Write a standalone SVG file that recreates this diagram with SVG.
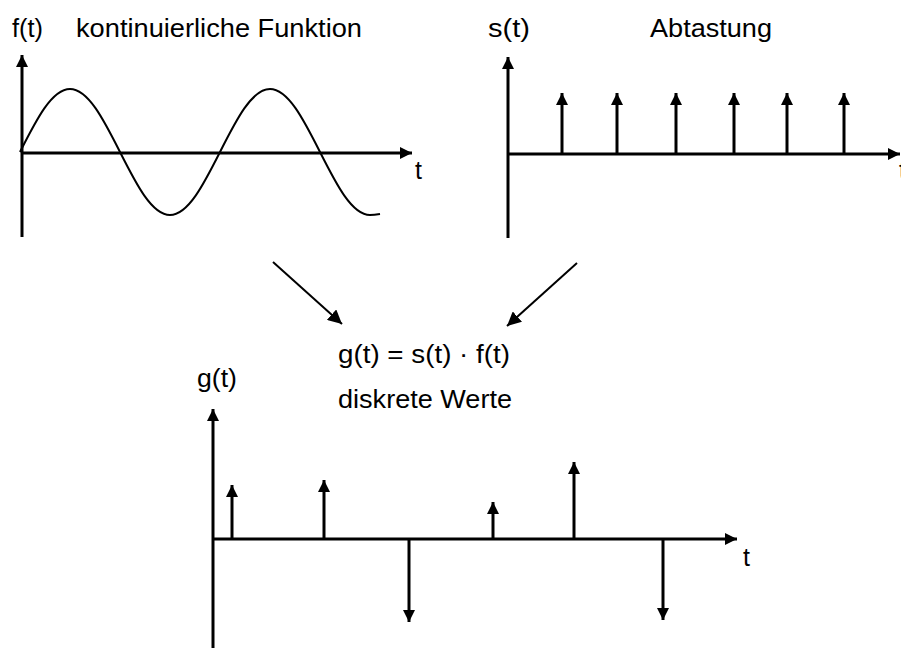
<svg xmlns="http://www.w3.org/2000/svg" width="901" height="648" viewBox="0 0 901 648">
<style>
  text { font-family: "Liberation Sans", Arial, sans-serif; font-size: 25px; fill: #000; }
  .ax { stroke: #000; stroke-width: 3; fill: none; marker-end: url(#ah); }
  .imp { stroke: #000; stroke-width: 3; fill: none; marker-end: url(#ah); }
  .wave { stroke: #000; stroke-width: 2; fill: none; }
  .con { stroke: #000; stroke-width: 2; fill: none; marker-end: url(#ch); }
</style>
<defs>
  <marker id="ah" markerUnits="userSpaceOnUse" markerWidth="14" markerHeight="12" refX="12" refY="6" orient="auto">
    <path d="M0,0 L12,6 L0,12 Z" fill="#000"/>
  </marker>
  <marker id="ch" markerUnits="userSpaceOnUse" markerWidth="16" markerHeight="14" refX="14" refY="7" orient="auto">
    <path d="M0,0 L14,7 L0,14 Z" fill="#000"/>
  </marker>
</defs>
<rect width="901" height="648" fill="#fff"/>

<g id="plot-f">
  <line class="ax" x1="22" y1="237" x2="22" y2="55"/>
  <line class="ax" x1="22" y1="153" x2="412" y2="153"/>
  <path class="wave" d="M20,152 C36.3,119.7 51.9,89 70,89 C88.1,89 103.7,119.7 120,152 C136.3,184.3 151.9,215 170,215 C188.1,215 203.7,184.3 220,152 C236.3,119.7 251.9,89 270,89 C288.1,89 303.7,119.7 320,152 C336.3,184.3 351.9,215 370,215 C374,215 377,214.5 380,214"/>
  <text x="12" y="37" textLength="31" lengthAdjust="spacingAndGlyphs">f(t)</text>
  <text x="76" y="37" textLength="286" lengthAdjust="spacingAndGlyphs">kontinuierliche Funktion</text>
  <text x="415" y="179">t</text>
</g>

<g id="plot-s">
  <line class="ax" x1="508" y1="238" x2="508" y2="57"/>
  <line class="ax" x1="508" y1="154" x2="900" y2="154"/>
  <line class="imp" x1="562" y1="154" x2="562" y2="93"/>
  <line class="imp" x1="617" y1="154" x2="617" y2="93"/>
  <line class="imp" x1="676" y1="154" x2="676" y2="93"/>
  <line class="imp" x1="734" y1="154" x2="734" y2="93"/>
  <line class="imp" x1="787" y1="154" x2="787" y2="93"/>
  <line class="imp" x1="844" y1="154" x2="844" y2="93"/>
  <text x="488" y="37" textLength="42" lengthAdjust="spacingAndGlyphs">s(t)</text>
  <text x="650" y="37" textLength="122" lengthAdjust="spacingAndGlyphs">Abtastung</text>
  <text x="899" y="179">t</text>
</g>

<g id="connectors">
  <line class="con" x1="273" y1="262" x2="342" y2="324"/>
  <line class="con" x1="577" y1="263" x2="507" y2="326"/>
</g>

<g id="formula">
  <text x="338" y="363" textLength="172" lengthAdjust="spacingAndGlyphs">g(t) = s(t) · f(t)</text>
  <text x="338" y="408" textLength="174" lengthAdjust="spacingAndGlyphs">diskrete Werte</text>
</g>

<g id="plot-g">
  <line class="ax" x1="213" y1="648" x2="213" y2="409"/>
  <line class="ax" x1="213" y1="539" x2="737" y2="539"/>
  <line class="imp" x1="232" y1="539" x2="232" y2="485"/>
  <line class="imp" x1="324" y1="539" x2="324" y2="480"/>
  <line class="imp" x1="409" y1="539" x2="409" y2="622"/>
  <line class="imp" x1="493" y1="539" x2="493" y2="502"/>
  <line class="imp" x1="574" y1="539" x2="574" y2="462"/>
  <line class="imp" x1="663" y1="539" x2="663" y2="620"/>
  <text x="197" y="387" textLength="40" lengthAdjust="spacingAndGlyphs">g(t)</text>
  <text x="743" y="566">t</text>
</g>
</svg>
